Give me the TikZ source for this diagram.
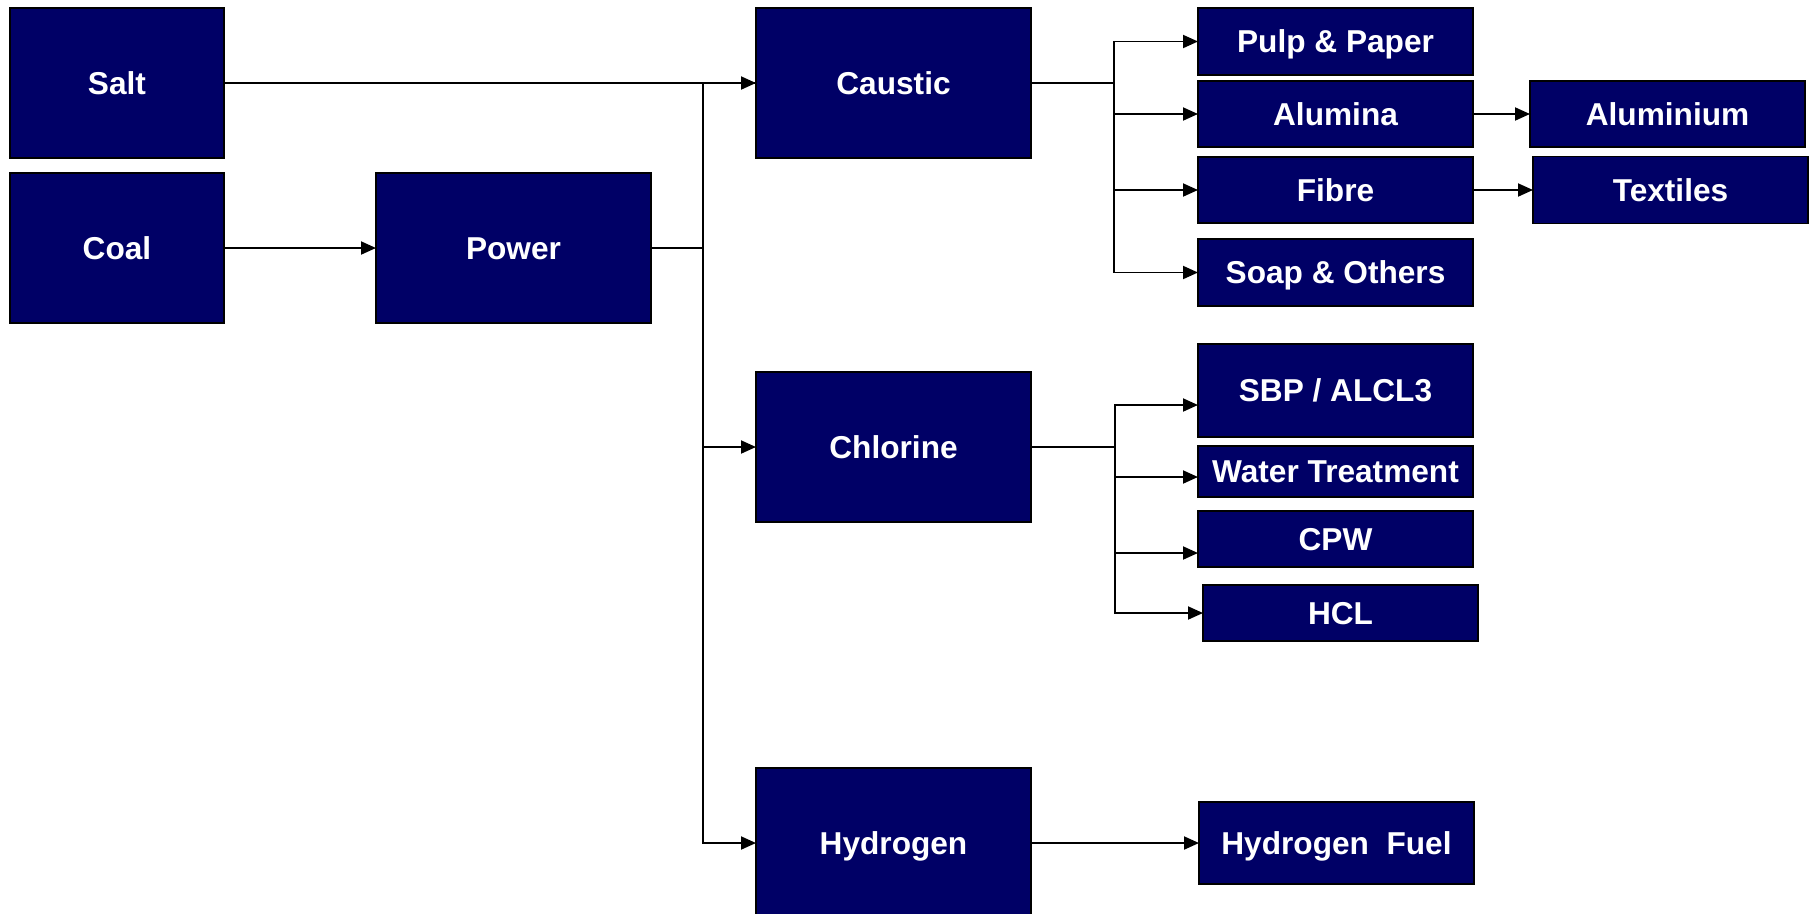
\documentclass[tikz,border=0pt]{standalone}
\usepackage{fontspec}
\setmainfont{Liberation Sans}
\usepackage{xcolor}
\usetikzlibrary{arrows.meta,positioning}

\definecolor{navyfill}{RGB}{0,0,102}

\begin{document}
\begin{tikzpicture}[
    node distance=3mm and 30mm,
    source/.style={draw, line width=1pt, fill=navyfill, text=white, minimum width=42.8mm,
                   minimum height=30mm, inner sep=0pt, outer sep=0pt, align=center,
                   text height=13pt, text depth=0pt,
                   font=\bfseries\fontsize{18}{21}\selectfont},
    block/.style={draw, line width=1pt, fill=navyfill, text=white, minimum width=55mm,
                  minimum height=30mm, inner sep=0pt, outer sep=0pt, align=center,
                  text height=13pt, text depth=0pt,
                  font=\bfseries\fontsize{18}{21}\selectfont},
    product/.style={draw, line width=1pt, fill=navyfill, text=white, minimum width=55mm,
                    minimum height=13.4mm, inner sep=0pt, outer sep=0pt, align=center,
                    text height=13pt, text depth=0pt,
                    font=\bfseries\fontsize{18}{21}\selectfont},
    line/.style={-{Triangle[length=3mm,width=2.6mm]}, line width=1.1pt},
    wire/.style={line width=1.1pt}
]
\useasboundingbox (-23.4mm,16.6mm) rectangle (338.6mm,-166mm);

\node[source]                       (salt)     {Salt};
\node[source,  below=3mm of salt]   (coal)     {Coal};
\node[block,   right=30.4mm of coal] (power)   {Power};
\node[block,   right=106.4mm of salt] (caustic) {Caustic};
\node[block,   below=42.8mm of caustic]  (chlorine) {Chlorine};
\node[block,   below=49.2mm of chlorine] (hydrogen) {Hydrogen};

% caustic products
\node[product, right=33.4mm of caustic.north east, anchor=north west] (pulp) {Pulp \& Paper};
\node[product, below=1.2mm of pulp, minimum height=13.2mm]  (alumina)   {Alumina};
\node[product, below=2mm of alumina, minimum height=13.2mm] (fibre)     {Fibre};
\node[product, below=3.2mm of fibre]                        (soap)      {Soap \& Others};
\node[product, right=11.4mm of alumina, minimum height=13.2mm] (aluminium) {Aluminium};
\node[product, right=12mm of fibre]                         (textiles)  {Textiles};

% chlorine products
\node[product, below=7.6mm of soap, minimum height=18.6mm]  (sbp)   {SBP / ALCL3};
\node[product, below=1.8mm of sbp, minimum height=10.2mm]   (water) {Water Treatment};
\node[product, below=2.8mm of water, minimum height=11.2mm] (cpw)   {CPW};
\node[product, below=3.6mm of cpw, minimum height=11.2mm, xshift=1mm] (hcl) {HCL};

\node[product, right=33.6mm of hydrogen, minimum height=16.4mm] (hfuel) {Hydrogen\ \ Fuel};

\coordinate[right=10.4mm of power.east]    (pbus);
\coordinate[right=16.6mm of caustic.east]  (cbus);
\coordinate[right=16.8mm of chlorine.east] (clbus);

\draw[line] (salt) -- (caustic);
\draw[line] (coal) -- (power);
\draw[wire] (power.east) -- (pbus) |- (caustic.west);
\draw[line] (pbus) |- (chlorine.west);
\draw[line] (pbus) |- (hydrogen.west);

\draw[wire] (caustic.east) -- (cbus);
\draw[line] (cbus) |- (pulp.west);
\draw[line] (cbus) |- (alumina.west);
\draw[line] (cbus) |- (fibre.west);
\draw[line] (cbus) |- (soap.west);
\draw[line] (alumina) -- (aluminium);
\draw[line] (fibre)   -- (textiles);

\draw[wire] (chlorine.east) -- (clbus);
\draw[line] (clbus) |- ([yshift=-2.9mm]sbp.west);
\draw[line] (clbus) |- ([yshift=-1.1mm]water.west);
\draw[line] (clbus) |- ([yshift=-2.8mm]cpw.west);
\draw[line] (clbus) |- (hcl.west);

\draw[line] (hydrogen) -- (hfuel);
\end{tikzpicture}
\end{document}
